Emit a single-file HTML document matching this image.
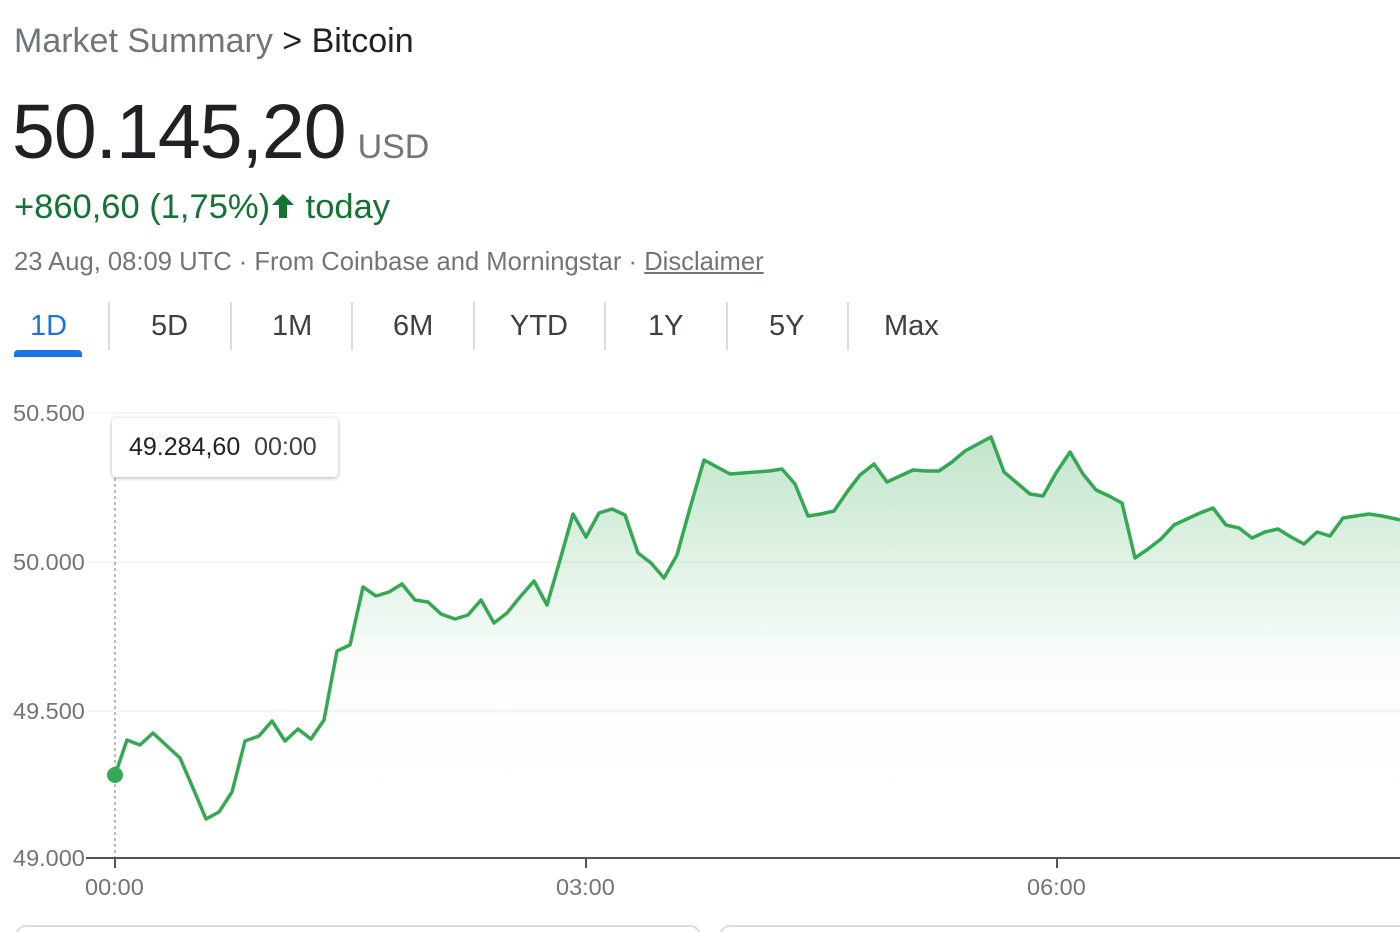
<!DOCTYPE html>
<html><head><meta charset="utf-8"><style>
body{margin:0;width:1400px;height:932px;background:#fff;font-family:"Liberation Sans",Arial,sans-serif;overflow:hidden;position:relative}
.a{position:absolute;white-space:nowrap}
</style></head><body>
<div class="a" style="left:14px;top:22px;font-size:34px;color:#70757a">Market Summary <span style="color:#202124">&gt; Bitcoin</span></div>
<div class="a" style="left:12px;top:88px;font-size:77px;color:#202124;letter-spacing:-1px">50.145,20<span style="font-size:34px;color:#70757a;letter-spacing:0;margin-left:12px">USD</span></div>
<div class="a" style="left:14px;top:188px;font-size:34.5px;color:#137333">+860,60 (1,75%)<svg width="26" height="28" viewBox="0 0 26 28" style="vertical-align:-2px"><path d="M13 2 L24 13 L17 13 L17 26 L9 26 L9 13 L2 13 Z" fill="#137333"/></svg> today</div>
<div class="a" style="left:14px;top:248px;font-size:25.6px;color:#70757a">23 Aug, 08:09 UTC · From Coinbase and Morningstar · <span style="text-decoration:underline">Disclaimer</span></div>
<div class="a" style="left:30px;top:310px;font-size:29px;color:#1a73e8">1D</div>
<div class="a" style="left:14px;top:350px;width:68px;height:7px;background:#1a73e8;border-radius:4px 4px 0 0"></div>
<div class="a" style="left:151px;top:310px;font-size:29px;color:#3c4043">5D</div>
<div class="a" style="left:272px;top:310px;font-size:29px;color:#3c4043">1M</div>
<div class="a" style="left:393px;top:310px;font-size:29px;color:#3c4043">6M</div>
<div class="a" style="left:510px;top:310px;font-size:29px;color:#3c4043">YTD</div>
<div class="a" style="left:648px;top:310px;font-size:29px;color:#3c4043">1Y</div>
<div class="a" style="left:769px;top:310px;font-size:29px;color:#3c4043">5Y</div>
<div class="a" style="left:884px;top:310px;font-size:29px;color:#3c4043">Max</div>
<div class="a" style="left:108px;top:302px;width:2px;height:48px;background:#dadce0"></div>
<div class="a" style="left:230px;top:302px;width:2px;height:48px;background:#dadce0"></div>
<div class="a" style="left:351px;top:302px;width:2px;height:48px;background:#dadce0"></div>
<div class="a" style="left:473px;top:302px;width:2px;height:48px;background:#dadce0"></div>
<div class="a" style="left:604px;top:302px;width:2px;height:48px;background:#dadce0"></div>
<div class="a" style="left:726px;top:302px;width:2px;height:48px;background:#dadce0"></div>
<div class="a" style="left:847px;top:302px;width:2px;height:48px;background:#dadce0"></div>
<svg class="a" style="left:0;top:0" width="1400" height="932">
<defs><linearGradient id="g" x1="0" y1="0" x2="0" y2="1"><stop offset="0" stop-color="#34a853" stop-opacity="0.3"/><stop offset="0.55" stop-color="#34a853" stop-opacity="0.02"/><stop offset="1" stop-color="#fff" stop-opacity="0"/></linearGradient></defs>
<g font-size="23.5" fill="#70757a" font-family="Liberation Sans,Arial,sans-serif">
<line x1="88" y1="413" x2="1400" y2="413" stroke="#ececec"/>
<line x1="88" y1="562" x2="1400" y2="562" stroke="#ececec"/>
<line x1="88" y1="711" x2="1400" y2="711" stroke="#ececec"/>
<text x="13" y="421">50.500</text><text x="13" y="570">50.000</text><text x="13" y="719">49.500</text><text x="13" y="866">49.000</text>
<text x="85" y="895">00:00</text><text x="556" y="895">03:00</text><text x="1027" y="895">06:00</text>
</g>
<polygon fill="url(#g)" points="115,858 115,775 127,740 140,745 153,733 167,746 180,758 193,788 206,819 219,812 232,792 245,741 259,736 272,721 285,741 298,729 311,739 324,720 337,651 350,645 363,587 376,596 389,592 402,584 415,600 428,602 441,614 455,619 468,615 481,600 494,623 507,613 520,597 534,581 547,605 560,560 573,514 586,537 599,513 612,509 625,515 638,553 651,563 664,578 677,555 690,508 704,460 717,467 730,474 743,473 756,472 769,471 782,469 795,484 808,516 821,514 834,511 847,492 860,475 874,464 887,482 900,476 913,470 926,471 939,471 952,462 965,451 978,444 991,437 1004,472 1017,483 1030,494 1043,496 1056,473 1070,452 1083,474 1096,490 1109,496 1122,503 1135,558 1148,549 1161,539 1174,525 1187,519 1200,513 1213,508 1226,525 1239,528 1252,538 1265,532 1278,529 1291,537 1304,544 1317,532 1330,536 1343,518 1356,516 1369,514 1382,516 1396,519 1400,520 1400,858"/>
<polyline fill="none" stroke="#34a853" stroke-width="3.5" stroke-linejoin="round" points="115,775 127,740 140,745 153,733 167,746 180,758 193,788 206,819 219,812 232,792 245,741 259,736 272,721 285,741 298,729 311,739 324,720 337,651 350,645 363,587 376,596 389,592 402,584 415,600 428,602 441,614 455,619 468,615 481,600 494,623 507,613 520,597 534,581 547,605 560,560 573,514 586,537 599,513 612,509 625,515 638,553 651,563 664,578 677,555 690,508 704,460 717,467 730,474 743,473 756,472 769,471 782,469 795,484 808,516 821,514 834,511 847,492 860,475 874,464 887,482 900,476 913,470 926,471 939,471 952,462 965,451 978,444 991,437 1004,472 1017,483 1030,494 1043,496 1056,473 1070,452 1083,474 1096,490 1109,496 1122,503 1135,558 1148,549 1161,539 1174,525 1187,519 1200,513 1213,508 1226,525 1239,528 1252,538 1265,532 1278,529 1291,537 1304,544 1317,532 1330,536 1343,518 1356,516 1369,514 1382,516 1396,519 1400,520"/>
<line x1="115" y1="478" x2="115" y2="858" stroke="#777" stroke-dasharray="3,3"/>
<line x1="86" y1="858" x2="1400" y2="858" stroke="#555" stroke-width="2"/>
<line x1="115" y1="858" x2="115" y2="868" stroke="#555" stroke-width="2"/>
<line x1="586" y1="858" x2="586" y2="868" stroke="#555" stroke-width="2"/>
<line x1="1057" y1="858" x2="1057" y2="868" stroke="#555" stroke-width="2"/>
<circle cx="115" cy="775" r="8" fill="#34a853"/>
<rect x="16" y="926" width="684" height="20" rx="10" fill="none" stroke="#dadce0" stroke-width="2"/>
<rect x="720" y="926" width="700" height="20" rx="10" fill="none" stroke="#dadce0" stroke-width="2"/>
</svg>
<div class="a" style="left:112px;top:418px;width:226px;height:59px;background:#fff;border-radius:4px;box-shadow:0 1px 4px rgba(0,0,0,.3);font-size:25px;color:#202124;line-height:59px;text-indent:17px">49.284,60 <span style="color:#3c4043">&nbsp;00:00</span></div>
</body></html>
